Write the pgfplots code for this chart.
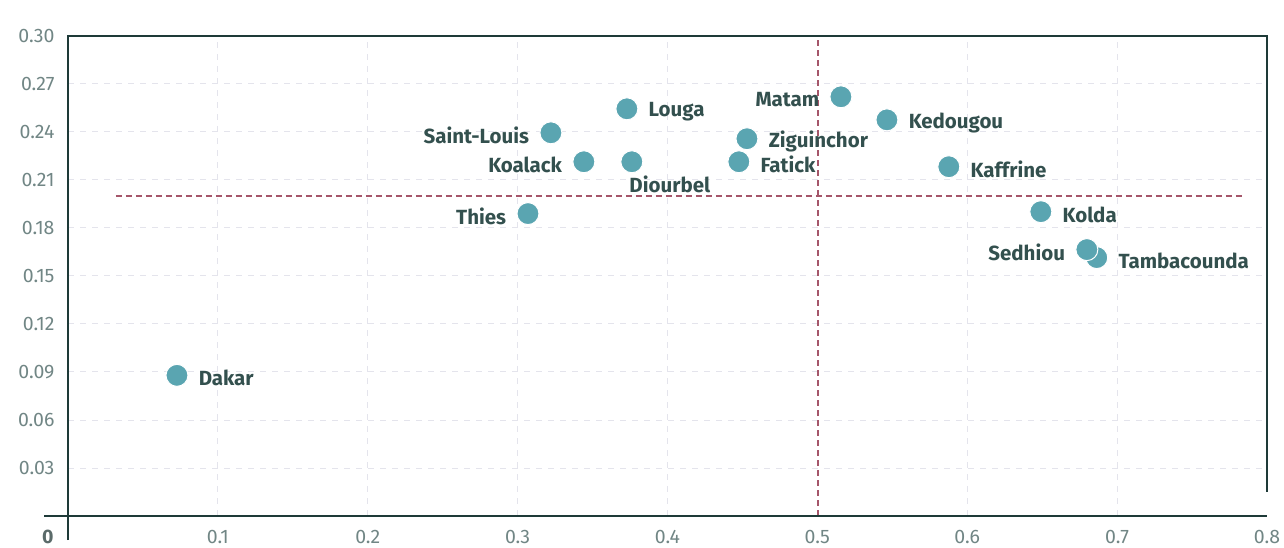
\documentclass[border=0pt]{standalone}
\usepackage{fontspec}
\setmainfont{Fira Sans}
\usepackage{pgfplots}
\pgfplotsset{compat=1.18}
\definecolor{pt}{HTML}{5AA5B1}
\definecolor{lab}{HTML}{33504E}
\definecolor{tickc}{HTML}{718685}
\definecolor{gridc}{HTML}{E4E4EC}
\definecolor{refc}{HTML}{A5566A}
\definecolor{axc}{HTML}{1E3A38}
\begin{document}
\begin{tikzpicture}
\begin{axis}[
  name=ax,
  scale only axis, width=1199pt, height=480pt,
  xmin=0, xmax=0.8, ymin=0, ymax=0.30,
  clip=false,
  axis line style={draw=none},
  xtick={0.1,0.2,...,0.8},
  ytick={0.03,0.06,...,0.30},
  xticklabels={0.1,0.2,0.3,0.4,0.5,0.6,0.7,0.8},
  yticklabels={0.03,0.06,0.09,0.12,0.15,0.18,0.21,0.24,0.27,0.30},
  tick style={draw=none},
  tick label style={font=\fontsize{19.5}{21}\selectfont, text=tickc},
  xticklabel style={anchor=center, yshift=-21pt},
  yticklabel style={xshift=-10pt},
  grid=none,
  /pgf/number format/assume math mode=true,
]
% grid
\pgfplotsinvokeforeach{0.1,0.2,0.3,0.4,0.6,0.7}{
  \draw[gridc, dash pattern=on 6pt off 6pt, line width=1pt] (axis cs:#1,0) -- (axis cs:#1,0.30);
}
\pgfplotsinvokeforeach{0.03,0.06,0.09,0.12,0.15,0.18,0.21,0.24,0.27}{
  \draw[gridc, dash pattern=on 6pt off 6pt, line width=1pt] (axis cs:0,#1) -- (axis cs:0.8,#1);
}
% reference lines
\draw[refc, line width=1.6pt, dash pattern=on 6pt off 4pt] (axis cs:0.032,0.20) -- (axis cs:0.785,0.20);
\draw[refc, line width=1.6pt, dash pattern=on 6pt off 4pt] ([xshift=0.5pt]axis cs:0.5,0) -- ([xshift=0.5pt]axis cs:0.5,0.30);
% axis frame
\draw[axc, line width=1.3pt] (axis cs:0,-0.015) -- (axis cs:0,0.30) -- (axis cs:0.8,0.30) -- (axis cs:0.8,0.015);
\draw[axc, line width=1.3pt] (axis cs:-0.016,0) -- (axis cs:0.8,0);
\node[text=tickc!80!black, font=\fontsize{19.5}{21}\selectfont\bfseries] at (axis cs:-0.0135,-0.0133) {0};
% points, labels right
\addplot[only marks, mark=*, mark size=11pt, mark options={fill=pt, draw=white, line width=1pt},
  nodes near coords, point meta=explicit symbolic,
  every node near coord/.append style={anchor=west, xshift=18pt, yshift=-3pt, text=lab, font=\fontsize{20.5}{22}\selectfont\bfseries}]
  table[meta=label] {
x y label
0.0727 0.0879 Dakar
0.3729 0.2545 Louga
0.4476 0.2214 Fatick
0.4530 0.2358 Ziguinchor
0.5464 0.2476 Kedougou
0.5877 0.2183 Kaffrine
0.6491 0.1902 Kolda
0.6864 0.1615 Tambacounda
};
% labels left
\addplot[only marks, mark=*, mark size=11pt, mark options={fill=pt, draw=white, line width=1pt},
  nodes near coords, point meta=explicit symbolic,
  every node near coord/.append style={anchor=east, xshift=-18pt, yshift=-3pt, text=lab, font=\fontsize{20.5}{22}\selectfont\bfseries}]
  table[meta=label] {
x y label
0.3069 0.1890 Thies
0.3222 0.2395 Saint-Louis
0.3442 0.2214 Koalack
0.5157 0.2620 Matam
0.6798 0.1665 Sedhiou
};
% label below
\addplot[only marks, mark=*, mark size=11pt, mark options={fill=pt, draw=white, line width=1pt},
  nodes near coords, point meta=explicit symbolic,
  every node near coord/.append style={anchor=north, xshift=38pt, yshift=-10pt, text=lab, font=\fontsize{20.5}{22}\selectfont\bfseries}]
  table[meta=label] {
x y label
0.3762 0.2214 Diourbel
};
\end{axis}
\pgfresetboundingbox
\path[use as bounding box] ([xshift=-68pt,yshift=-31pt]ax.south west) rectangle ([xshift=17pt,yshift=36pt]ax.north east);
\end{tikzpicture}
\end{document}
